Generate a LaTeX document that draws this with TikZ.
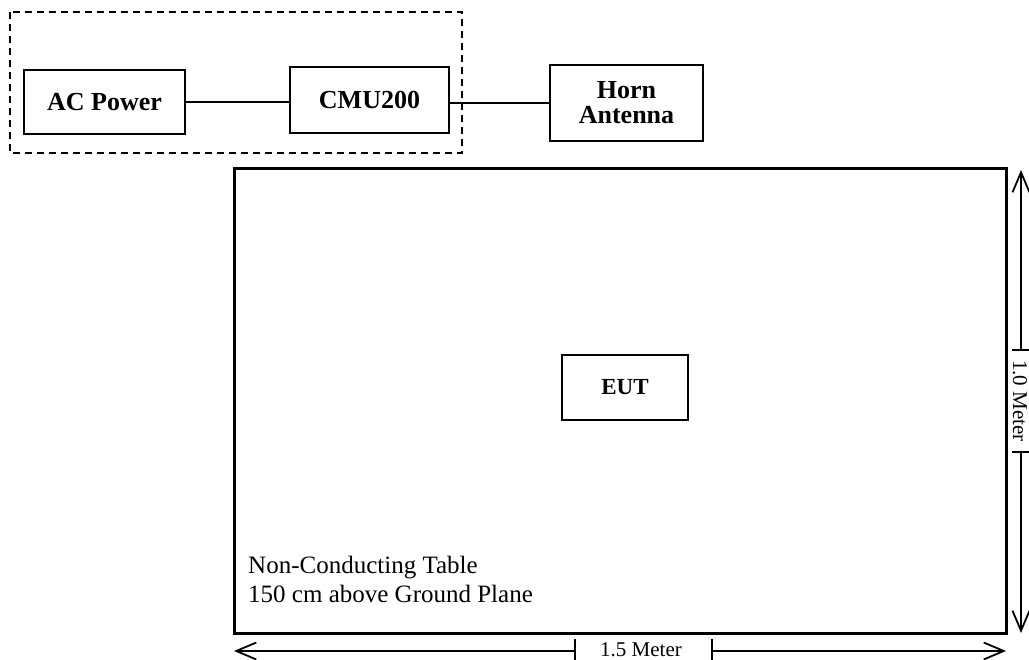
\documentclass[tikz,border=0pt]{standalone}
\usepackage{fontspec}
\setmainfont{Liberation Serif}
\usetikzlibrary{arrows.meta}

\tikzset{
    unitbox/.style={draw, line width=1.6pt, inner sep=0pt, align=center,
        font=\bfseries\fontsize{26}{25}\selectfont},
    dimline/.style={line width=1.8pt, -{Straight Barb[length=20pt,width=17pt]}},
    dimtick/.style={line width=1.6pt}
}

\begin{document}
\begin{tikzpicture}[x=1pt, y=-1pt]
            \useasboundingbox (0, 0) rectangle (1029, 660);
            % test set-up
            \draw[line width=1.5pt, dash pattern=on 7pt off 5pt] (10, 12) rectangle (462, 153);
            \node[unitbox, minimum width=161pt, minimum height=64pt] (acpower) at (104.5, 102) {AC Power};
            \node[unitbox, minimum width=159pt, minimum height=66pt] (cmu) at (369.5, 100) {CMU200};
            \node[unitbox, minimum width=153pt, minimum height=76pt] (horn) at (626.5, 103) {Horn\\Antenna};
            \draw[line width=1.3pt] (acpower.east) -- (acpower.east -| cmu.west);
            \draw[line width=1.3pt] (horn.west -| cmu.east) -- (horn.west);
            % table
            \draw[line width=3pt] (234, 169) rectangle (1006, 633);
            \node[unitbox, minimum width=126pt, minimum height=65pt,
                font=\bfseries\fontsize{23}{25}\selectfont] (eut) at (625, 387.5) {EUT};
            \node[anchor=base west, align=left, inner sep=0pt,
                font=\fontsize{25}{29}\selectfont] (tablelabel) at (248, 602)
                {Non-Conducting Table\\150 cm above Ground Plane};
            % dimensions
            \coordinate (bl) at (234, 651);
            \coordinate (br) at (1006, 651);
            \coordinate (bgl) at (575, 651);
            \coordinate (bgr) at (712, 651);
            \coordinate (rt) at (1021, 170);
            \coordinate (rb) at (1021, 633);
            \coordinate (rgt) at (1021, 350);
            \coordinate (rgb) at (1021, 452);
            \draw[dimline] (bgl) -- (bl);
            \draw[dimline] (bgr) -- (br);
            \draw[dimtick] ([yshift=-12pt]bgl) -- ([yshift=12pt]bgl);
            \draw[dimtick] ([yshift=-12pt]bgr) -- ([yshift=12pt]bgr);
            \draw[dimline] (rgt) -- (rt);
            \draw[dimline] (rgb) -- (rb);
            \draw[dimtick] ([xshift=-9pt]rgt) -- ([xshift=9pt]rgt);
            \draw[dimtick] ([xshift=-9pt]rgb) -- ([xshift=9pt]rgb);
            \node[anchor=base, inner sep=0pt, font=\fontsize{21}{24}\selectfont] (widthlabel) at (641, 656) {1.5 Meter};
            \node[rotate=-90, inner sep=0pt, font=\fontsize{21}{24}\selectfont] (depthlabel) at (1020, 401) {1.0 Meter};
        \end{tikzpicture}
\end{document}
